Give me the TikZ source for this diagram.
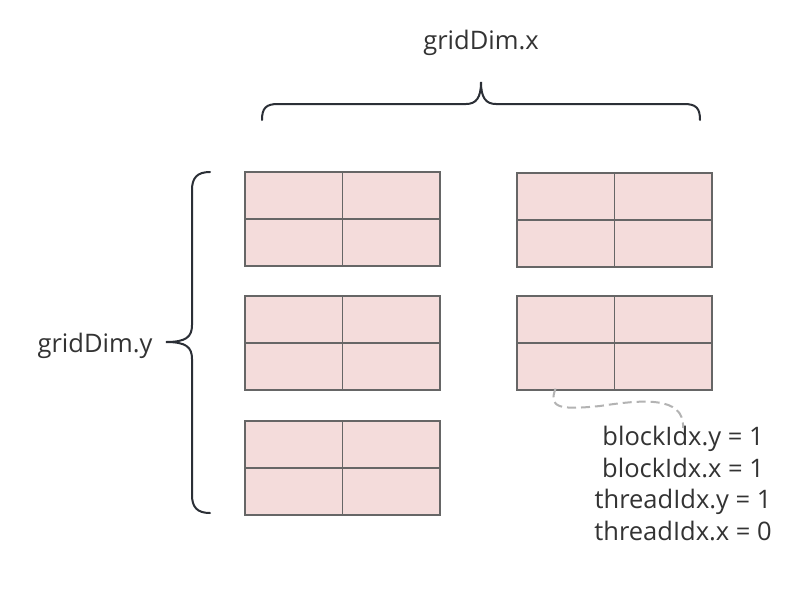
\documentclass[tikz,border=0pt]{standalone}
\usepackage{fontspec}
\setmainfont{Open Sans}
\begin{document}
\begin{tikzpicture}[x=1pt,y=-1pt,
  cell/.style={draw=cellline,fill=cellfill,line width=1.6pt,minimum width=97.5pt,minimum height=47pt,inner sep=0pt,anchor=north west},
  bracestyle/.style={draw=bracecol,line width=2pt,line cap=round},
  lbl/.style={font=\fontsize{25.5}{31.5}\selectfont,text=labelcol,inner sep=0pt}]
\definecolor{cellfill}{HTML}{F4DCDB}
\definecolor{cellline}{HTML}{666666}
\definecolor{bracecol}{HTML}{2B2F36}
\definecolor{labelcol}{HTML}{333333}
\definecolor{dashcol}{HTML}{B3B3B3}
\useasboundingbox[fill=white] (0,0) rectangle (800,592);
% blocks
\foreach \bx/\by/\n in {244/171/a,244/295/b,244/420/c,516/172/d,516/295/e}{
  \node[cell] (\n11) at (\bx,\by) {};
  \node[cell] (\n12) at (\bx+97.5,\by) {};
  \node[cell] (\n21) at (\bx,\by+47) {};
  \node[cell] (\n22) at (\bx+97.5,\by+47) {};
}
% top brace
\draw[bracestyle] (262,120) .. controls (262,108) and (266,104) .. (278,104)
  -- (466,104) .. controls (476,104) and (481,98) .. (481,82)
  .. controls (481,98) and (486,104) .. (496,104)
  -- (684,104) .. controls (696,104) and (700,108) .. (700,120);
% left brace
\draw[bracestyle] (210,172) .. controls (197,172) and (192,178) .. (192,190)
  -- (192,325) .. controls (192,337) and (186,342) .. (166,342)
  .. controls (186,342) and (192,347) .. (192,359)
  -- (192,495) .. controls (192,507) and (197,513) .. (210,513);
\node[lbl] (gx) at (481,43) {gridDim.x};
\node[lbl] (gy) at (95,346) {gridDim.y};
\node[lbl,align=center,anchor=north] (idx) at (683,426) {blockIdx.y = 1\\blockIdx.x = 1\\threadIdx.y = 1\\threadIdx.x = 0};
\draw[dashcol,line width=2pt,dash pattern=on 9pt off 5pt] ([xshift=-10pt,yshift=2pt]e21.south) .. controls (548,408) and (560,410) .. (600,406)
  .. controls (640,400) and (685,395) .. ([yshift=-2pt]idx.north);
\end{tikzpicture}
\end{document}
